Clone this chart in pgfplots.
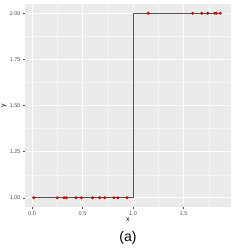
\documentclass[border=0pt]{standalone}
\usepackage{pgfplots}
\pgfplotsset{compat=1.18}
\usepackage{fontspec}
\setmainfont{Liberation Sans}
\definecolor{bgc}{HTML}{EBEBEB}
\definecolor{tickc}{HTML}{4D4D4D}
\definecolor{ptc}{HTML}{D40000}
\definecolor{linec}{HTML}{555555}
\begin{document}
\begin{tikzpicture}
\useasboundingbox (-25pt,-43pt) rectangle (225pt,207pt);
\begin{axis}[
  at={(0,0)}, anchor=south west,
  scale only axis, width=206pt, height=203pt,
  xmin=-0.07, xmax=1.97, ymin=0.95, ymax=2.05,
  axis background/.style={fill=bgc},
  axis line style={draw=none},
  xtick={0,0.5,1,1.5}, xticklabels={0.0,0.5,1.0,1.5},
  ytick={1,1.25,1.5,1.75,2}, yticklabels={1.00,1.25,1.50,1.75,2.00},
  minor xtick={0.25,0.75,1.25,1.75},
  minor ytick={1.125,1.375,1.625,1.875},
  grid=both,
  major grid style={white, line width=0.7pt},
  minor grid style={white!55!bgc, line width=0.4pt},
  tick pos=left, tick align=outside,
  major tick length=2pt, minor tick length=0pt,
  tick style={color=tickc, line width=0.4pt},
  ticklabel style={font=\fontsize{5.5}{6}\selectfont, text=tickc},
  xticklabel style={yshift=1pt},
  yticklabel style={xshift=1pt},
  clip=false,
]
\addplot[color=linec, line width=0.6pt] coordinates {
(0.017,1) (1,1) (1,2) (1.865,2)};
\addplot[only marks, mark=*, mark size=1.3pt, color=ptc] coordinates {
(0.017,1) (0.25,1) (0.317,1) (0.34,1) (0.435,1) (0.49,1) (0.598,1) (0.67,1) (0.72,1) (0.81,1) (0.85,1) (0.94,1)
(1.15,2) (1.59,2) (1.68,2) (1.74,2) (1.81,2) (1.825,2) (1.865,2)};
\end{axis}
\node[font=\fontsize{7}{8}\selectfont] at (103pt,-13pt) {x};
\node[font=\fontsize{7}{8}\selectfont, rotate=90] at (-21pt,101.5pt) {y};
\node[font=\fontsize{14}{16}\selectfont] at (103pt,-31pt) {(a)};
\end{tikzpicture}
\end{document}
